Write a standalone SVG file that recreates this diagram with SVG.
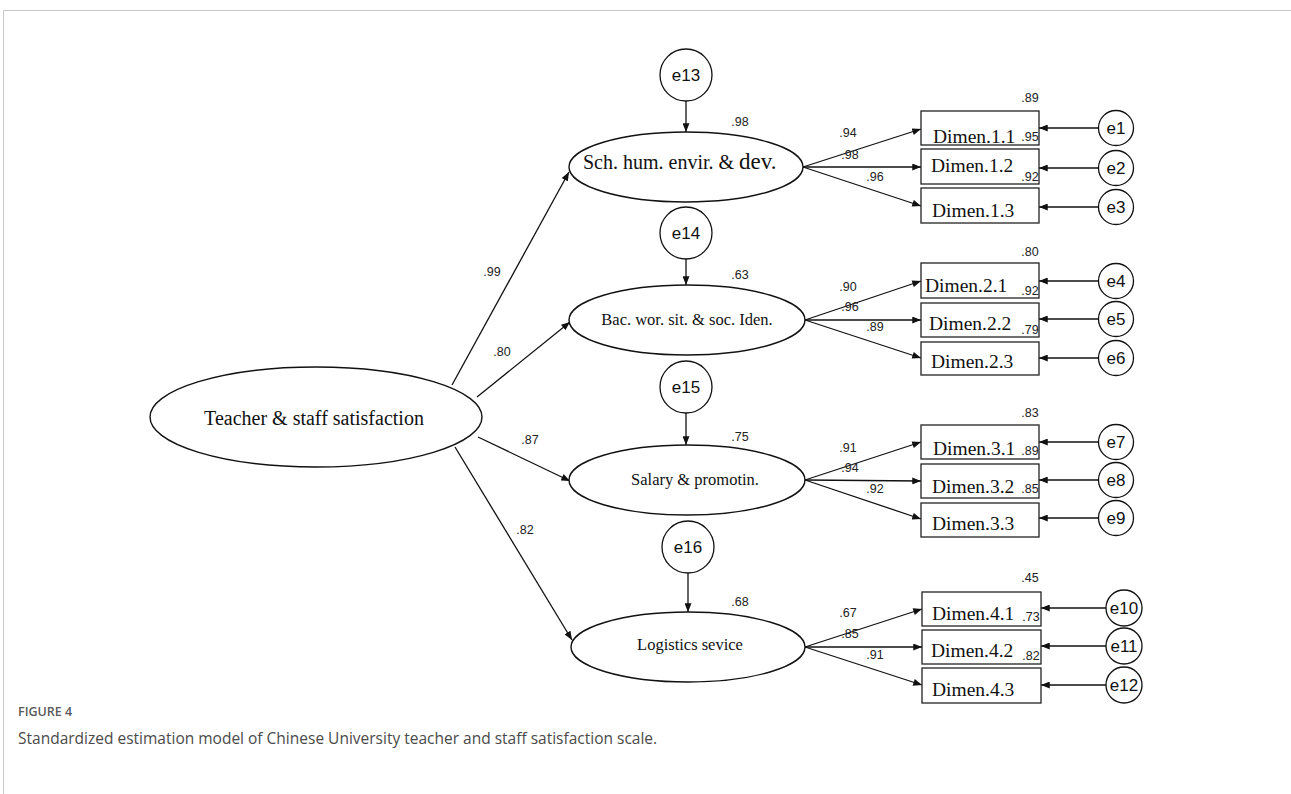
<svg xmlns="http://www.w3.org/2000/svg" width="1291" height="794" viewBox="0 0 1291 794">
<style>
.ln{stroke:#111;stroke-width:1.3;fill:none}
.lat{fill:#fff;stroke:#111;stroke-width:1.4}
.box{fill:#fff;stroke:#222;stroke-width:1.3}
.err{fill:#fff;stroke:#111;stroke-width:1.3}
.num{font-family:"Liberation Sans",Arial,sans-serif;font-size:12.5px;fill:#222;text-anchor:middle}
.el{font-family:"Liberation Sans",Arial,sans-serif;font-size:17px;fill:#111;text-anchor:middle}
.ser{font-family:"Liberation Serif","Times New Roman",serif;fill:#111}
.dim{font-family:"Liberation Serif","Times New Roman",serif;font-size:19.5px;fill:#111}
.cap1{font-family:"Open Sans","Noto Sans",sans-serif;font-size:12.5px;font-weight:600;fill:#5a5a5a}
.cap2{font-family:"Open Sans","Noto Sans",sans-serif;font-size:15.5px;fill:#4a4a4a}
</style>
<defs>
<marker id="ah" viewBox="0 0 10 8" refX="10" refY="4" markerWidth="9" markerHeight="7" markerUnits="userSpaceOnUse" orient="auto">
<path d="M0,0 L10,4 L0,8 z" fill="#111"/>
</marker>
</defs>
<rect width="1291" height="794" fill="#fff"/>
<path d="M3.5,794 V10.5 H1291" fill="none" stroke="#c8c8c8" stroke-width="1"/>

<g id="connectors">
<line class="ln" x1="452" y1="385" x2="569" y2="172" marker-end="url(#ah)"/>
<line class="ln" x1="477" y1="397" x2="570" y2="322" marker-end="url(#ah)"/>
<line class="ln" x1="478" y1="437" x2="570" y2="481" marker-end="url(#ah)"/>
<line class="ln" x1="455" y1="447" x2="572" y2="640" marker-end="url(#ah)"/>
<line class="ln" x1="686" y1="101" x2="686" y2="132" marker-end="url(#ah)"/>
<line class="ln" x1="686" y1="259" x2="686" y2="285" marker-end="url(#ah)"/>
<line class="ln" x1="686" y1="413" x2="686" y2="445" marker-end="url(#ah)"/>
<line class="ln" x1="688" y1="573" x2="688" y2="612" marker-end="url(#ah)"/>
<line class="ln" x1="803" y1="167" x2="921" y2="129" marker-end="url(#ah)"/>
<line class="ln" x1="803" y1="167" x2="921" y2="167" marker-end="url(#ah)"/>
<line class="ln" x1="803" y1="167" x2="921" y2="206" marker-end="url(#ah)"/>
<line class="ln" x1="805" y1="320" x2="921" y2="281" marker-end="url(#ah)"/>
<line class="ln" x1="805" y1="320" x2="921" y2="320" marker-end="url(#ah)"/>
<line class="ln" x1="805" y1="320" x2="921" y2="358" marker-end="url(#ah)"/>
<line class="ln" x1="805" y1="480" x2="921" y2="442" marker-end="url(#ah)"/>
<line class="ln" x1="805" y1="480" x2="921" y2="481" marker-end="url(#ah)"/>
<line class="ln" x1="805" y1="480" x2="921" y2="519" marker-end="url(#ah)"/>
<line class="ln" x1="805" y1="647" x2="922" y2="609" marker-end="url(#ah)"/>
<line class="ln" x1="805" y1="647" x2="922" y2="647" marker-end="url(#ah)"/>
<line class="ln" x1="805" y1="647" x2="922" y2="685" marker-end="url(#ah)"/>
<line class="ln" x1="1098" y1="128" x2="1039" y2="128" marker-end="url(#ah)"/>
<line class="ln" x1="1098" y1="168" x2="1039" y2="168" marker-end="url(#ah)"/>
<line class="ln" x1="1098" y1="207" x2="1039" y2="207" marker-end="url(#ah)"/>
<line class="ln" x1="1098" y1="281" x2="1039" y2="281" marker-end="url(#ah)"/>
<line class="ln" x1="1098" y1="319" x2="1039" y2="319" marker-end="url(#ah)"/>
<line class="ln" x1="1098" y1="358" x2="1039" y2="358" marker-end="url(#ah)"/>
<line class="ln" x1="1098" y1="442" x2="1039" y2="442" marker-end="url(#ah)"/>
<line class="ln" x1="1098" y1="480" x2="1039" y2="480" marker-end="url(#ah)"/>
<line class="ln" x1="1098" y1="518" x2="1039" y2="518" marker-end="url(#ah)"/>
<line class="ln" x1="1106" y1="608" x2="1041" y2="608" marker-end="url(#ah)"/>
<line class="ln" x1="1106" y1="646" x2="1041" y2="646" marker-end="url(#ah)"/>
<line class="ln" x1="1106" y1="685" x2="1041" y2="685" marker-end="url(#ah)"/>
<text class="num" x="492" y="276">.99</text>
<text class="num" x="502" y="356">.80</text>
<text class="num" x="530" y="444">.87</text>
<text class="num" x="525" y="534">.82</text>
<text class="num" x="848" y="137">.94</text>
<text class="num" x="850" y="159">.98</text>
<text class="num" x="875" y="181">.96</text>
<text class="num" x="848" y="291">.90</text>
<text class="num" x="850" y="311">.96</text>
<text class="num" x="875" y="331">.89</text>
<text class="num" x="848" y="452">.91</text>
<text class="num" x="850" y="472">.94</text>
<text class="num" x="875" y="493">.92</text>
<text class="num" x="848" y="617">.67</text>
<text class="num" x="850" y="638">.85</text>
<text class="num" x="875" y="659">.91</text>
</g>

<g id="teacher">
<ellipse class="lat" cx="316" cy="417" rx="166" ry="50" stroke-width="1.6"/>
<text class="ser" x="314" y="425" font-size="20" text-anchor="middle">Teacher &amp; staff satisfaction</text>
</g>

<g id="f1">
<ellipse class="lat" cx="686" cy="167" rx="117" ry="35"/>
<text class="ser" x="583" y="169" font-size="20">Sch. hum. envir. &amp; <tspan font-size="23">dev.</tspan></text>
<text class="num" x="740" y="126">.98</text>
</g>
<g id="f2">
<ellipse class="lat" cx="687" cy="320" rx="118" ry="35"/>
<text class="ser" x="687" y="325" font-size="16.5" text-anchor="middle">Bac. wor. sit. &amp; soc. Iden.</text>
<text class="num" x="740" y="279">.63</text>
</g>
<g id="f3">
<ellipse class="lat" cx="687" cy="480" rx="118" ry="35"/>
<text class="ser" x="695" y="485" font-size="16.5" text-anchor="middle">Salary &amp; promotin.</text>
<text class="num" x="740" y="441">.75</text>
</g>
<g id="f4">
<ellipse class="lat" cx="688" cy="647" rx="117" ry="35"/>
<text class="ser" x="690" y="650" font-size="16.5" text-anchor="middle">Logistics sevice</text>
<text class="num" x="740" y="606">.68</text>
</g>

<g id="e13"><circle class="err" cx="686" cy="75" r="26"/><text class="el" x="686" y="81" font-size="18">e13</text></g>
<g id="e14"><circle class="err" cx="686" cy="233" r="26"/><text class="el" x="686" y="239" font-size="18">e14</text></g>
<g id="e15"><circle class="err" cx="686" cy="387" r="26"/><text class="el" x="686" y="393" font-size="18">e15</text></g>
<g id="e16"><circle class="err" cx="688" cy="547" r="26"/><text class="el" x="688" y="553" font-size="18">e16</text></g>

<g id="d11"><rect class="box" x="921" y="111" width="118" height="34"/><text class="dim" x="933" y="143">Dimen.1.1</text><text class="num" x="1030" y="141">.95</text><text class="num" x="1030" y="102">.89</text></g>
<g id="d12"><rect class="box" x="921" y="149" width="118" height="35"/><text class="dim" x="931" y="172">Dimen.1.2</text><text class="num" x="1030" y="181">.92</text></g>
<g id="d13"><rect class="box" x="921" y="188" width="118" height="35"/><text class="dim" x="932" y="217">Dimen.1.3</text></g>

<g id="d21"><rect class="box" x="921" y="263" width="118" height="35"/><text class="dim" x="925" y="292">Dimen.2.1</text><text class="num" x="1030" y="295">.92</text><text class="num" x="1030" y="256">.80</text></g>
<g id="d22"><rect class="box" x="921" y="303" width="118" height="34"/><text class="dim" x="929" y="330">Dimen.2.2</text><text class="num" x="1030" y="334">.79</text></g>
<g id="d23"><rect class="box" x="921" y="342" width="118" height="33"/><text class="dim" x="931" y="368">Dimen.2.3</text></g>

<g id="d31"><rect class="box" x="921" y="425" width="118" height="34"/><text class="dim" x="933" y="455">Dimen.3.1</text><text class="num" x="1030" y="455">.89</text><text class="num" x="1030" y="417">.83</text></g>
<g id="d32"><rect class="box" x="921" y="464" width="118" height="34"/><text class="dim" x="932" y="493">Dimen.3.2</text><text class="num" x="1030" y="493">.85</text></g>
<g id="d33"><rect class="box" x="921" y="503" width="118" height="34"/><text class="dim" x="932" y="530">Dimen.3.3</text></g>

<g id="d41"><rect class="box" x="922" y="592" width="119" height="34"/><text class="dim" x="932" y="620">Dimen.4.1</text><text class="num" x="1031" y="621">.73</text><text class="num" x="1030" y="582">.45</text></g>
<g id="d42"><rect class="box" x="922" y="630" width="119" height="34"/><text class="dim" x="931" y="657">Dimen.4.2</text><text class="num" x="1031" y="660">.82</text></g>
<g id="d43"><rect class="box" x="922" y="668" width="119" height="35"/><text class="dim" x="932" y="696">Dimen.4.3</text></g>

<g id="e1"><circle class="err" cx="1116" cy="128" r="17.5"/><text class="el" x="1116" y="134">e1</text></g>
<g id="e2"><circle class="err" cx="1116" cy="168" r="17.5"/><text class="el" x="1116" y="174">e2</text></g>
<g id="e3"><circle class="err" cx="1116" cy="207" r="17.5"/><text class="el" x="1116" y="213">e3</text></g>
<g id="e4"><circle class="err" cx="1116" cy="281" r="17.5"/><text class="el" x="1116" y="287">e4</text></g>
<g id="e5"><circle class="err" cx="1116" cy="319" r="17.5"/><text class="el" x="1116" y="325">e5</text></g>
<g id="e6"><circle class="err" cx="1116" cy="358" r="17.5"/><text class="el" x="1116" y="364">e6</text></g>
<g id="e7"><circle class="err" cx="1116" cy="442" r="17.5"/><text class="el" x="1116" y="448">e7</text></g>
<g id="e8"><circle class="err" cx="1116" cy="480" r="17.5"/><text class="el" x="1116" y="486">e8</text></g>
<g id="e9"><circle class="err" cx="1116" cy="518" r="17.5"/><text class="el" x="1116" y="524">e9</text></g>
<g id="e10"><circle class="err" cx="1124" cy="608" r="18"/><text class="el" x="1124" y="614">e10</text></g>
<g id="e11"><circle class="err" cx="1124" cy="646" r="18"/><text class="el" x="1124" y="652">e11</text></g>
<g id="e12"><circle class="err" cx="1124" cy="685" r="18"/><text class="el" x="1124" y="691">e12</text></g>

<g id="caption">
<text class="cap1" x="18" y="716">FIGURE 4</text>
<text class="cap2" x="18" y="744">Standardized estimation model of Chinese University teacher and staff satisfaction scale.</text>
</g>
</svg>
